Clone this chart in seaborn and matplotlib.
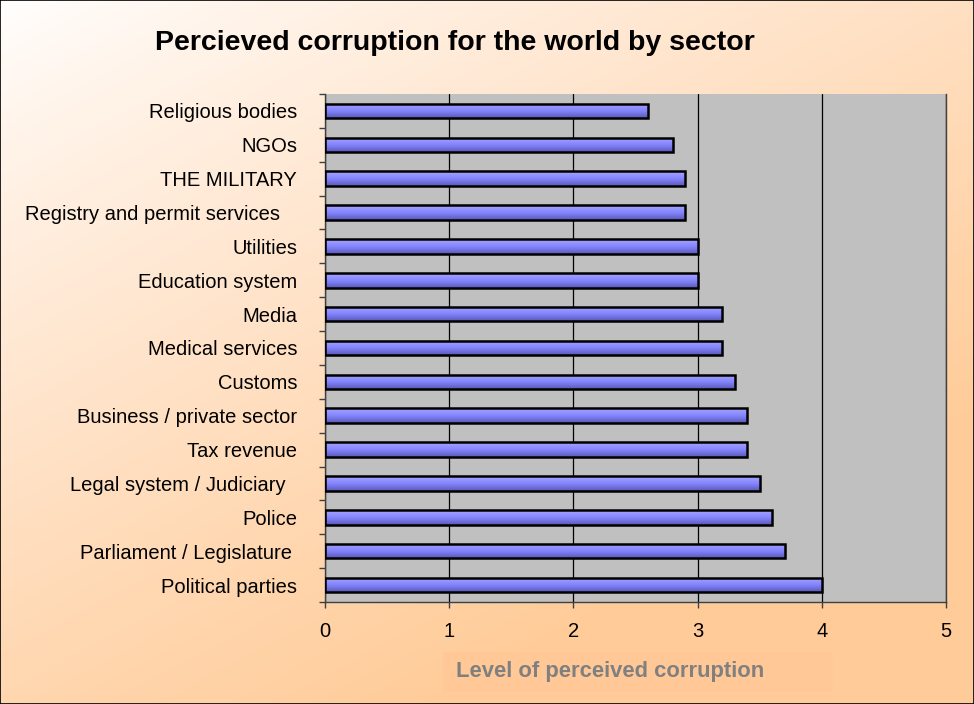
import numpy as np
import pandas as pd
import matplotlib
matplotlib.use("Agg")
import matplotlib.pyplot as plt
import matplotlib.patches as mpatches
from matplotlib.colors import LinearSegmentedColormap
import seaborn as sns

# data
sectors = ["Religious bodies", "NGOs", "THE MILITARY", "Registry and permit services   ",
           "Utilities", "Education system", "Media", "Medical services", "Customs",
           "Business / private sector", "Tax revenue", "Legal system / Judiciary  ",
           "Police", "Parliament / Legislature ", "Political parties"]
scores = [2.6, 2.8, 2.9, 2.9, 3.0, 3.0, 3.2, 3.2, 3.3, 3.4, 3.4, 3.5, 3.6, 3.7, 4.0]
x_ticks = [0, 1, 2, 3, 4, 5]

df = pd.DataFrame({"sector": sectors, "score": scores})

sns.set_style("white")
plt.rcParams["font.family"] = ["Liberation Sans", "DejaVu Sans"]
plt.rcParams["text.color"] = "black"

fig = plt.figure(figsize=(9.74, 7.04), dpi=100)

# page background: white top-left fading to peach bottom-right
bg = fig.add_axes([0, 0, 1, 1], zorder=-10)
gx, gy = np.meshgrid(np.linspace(0, 1, 300), np.linspace(0, 1, 300))
t = np.clip(gx * 0.55 + gy * 0.75, 0, 1) ** 0.8
bg_cmap = LinearSegmentedColormap.from_list("bg", ["#ffffff", "#ffe6cf", "#ffcc99"])
bg.imshow(t, cmap=bg_cmap, aspect="auto", extent=[0, 1, 1, 0], vmin=0, vmax=1)
bg.set_xlim(0, 1)
bg.set_ylim(1, 0)
bg.axis("off")

ax = fig.add_axes([0.3337, 0.1449, 0.6376, 0.7216])
ax.set_facecolor("#c0c0c0")

sns.barplot(data=df, x="score", y="sector", orient="h", width=0.43,
            color="#8080ff", edgecolor="black", linewidth=1.8, ax=ax, zorder=3)

# vertical gradient inside each bar
bar_cmap = LinearSegmentedColormap.from_list("bar", ["#a6a6ff", "#8585ff", "#5a5ab8"])
grad = np.linspace(0, 1, 64).reshape(-1, 1)
for p in ax.patches:
    x0, y0 = p.get_x(), p.get_y()
    w, h = p.get_width(), p.get_height()
    im = ax.imshow(grad, cmap=bar_cmap, aspect="auto", zorder=2.5,
                   extent=[x0, x0 + w, y0 + h, y0])
    im.set_clip_path(p)
    p.set_facecolor("none")

ax.set_xlim(0, 5)
ax.set_ylim(len(sectors) - 0.5, -0.5)
ax.set_xticks(x_ticks)
ax.set_xticklabels([str(v) for v in x_ticks], fontsize=14.5)
ax.xaxis.grid(True, color="black", linewidth=0.9, zorder=1)
ax.set_axisbelow(True)

# ticks between categories on the y axis
ax.set_yticks(np.arange(len(sectors)))
ax.set_yticklabels(sectors, fontsize=14.5)
ax.set_yticks(np.arange(-0.5, len(sectors), 1), minor=True)
ax.tick_params(axis="y", which="major", length=0, pad=20, labelcolor="black")
ax.tick_params(axis="y", which="minor", length=4.5, color="#404040", width=1, left=True)
ax.tick_params(axis="x", length=4.5, color="#404040", width=1, bottom=True, pad=10,
               labelcolor="black")

for side in ["left", "bottom", "right"]:
    ax.spines[side].set_color("#404040")
    ax.spines[side].set_linewidth(1)
ax.spines["top"].set_visible(False)
ax.set_xlabel("")
ax.set_ylabel("")

fig.text(0.467, 0.929, "Percieved corruption for the world by sector",
         ha="center", va="baseline", fontsize=20.5, fontweight="bold")

# axis title in its shaded box
fig.patches.append(mpatches.Rectangle((443 / 974, 1 - 692 / 704), 390 / 974, 40 / 704,
                                      transform=fig.transFigure, facecolor="#ffc896",
                                      edgecolor="none", zorder=1))
fig.text(456 / 974, 1 - 672 / 704, "Level of perceived corruption", ha="left", va="center",
         fontsize=15.8, fontweight="bold", color="#808080")

fig.patches.append(mpatches.Rectangle((0.0005, 0.0007), 0.999, 0.9986,
                                      transform=fig.transFigure, fill=False,
                                      edgecolor="black", linewidth=1.2))

fig.savefig("out.png", dpi=100)
